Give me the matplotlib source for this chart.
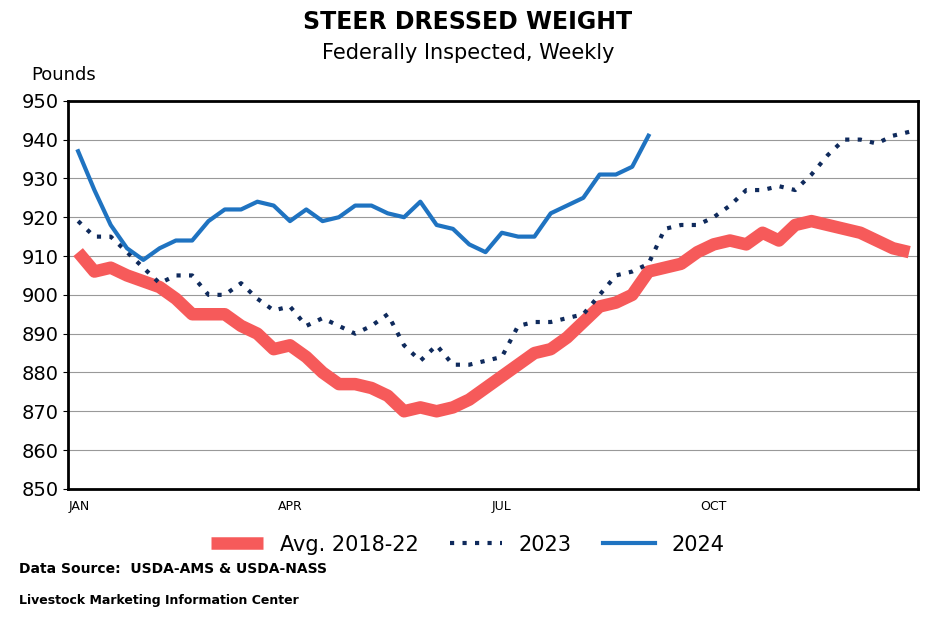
from matplotlib import pyplot as plt
import numpy as np

weeks = np.arange(1, 53)
avg_1822 = [911, 906, 907, 905, 903.5, 902, 899, 895, 895, 895, 892, 890, 886, 887, 884, 880,
            877, 877, 876, 874, 870, 871, 870, 871, 873, 876, 879, 882, 885, 886, 889, 893,
            897, 898, 900, 906, 907, 908, 911, 913, 914, 913, 916, 914, 918, 919, 918, 917,
            916, 914, 912, 911]
y2023 = [919, 915, 915, 911, 907, 903, 905, 905, 900, 900, 903, 899, 896, 897, 892, 894,
         892, 890, 892, 895, 887, 883, 887, 882, 882, 883, 884, 892, 893, 893, 894, 895,
         900, 905, 906, 908, 917, 918, 918, 920, 923, 927, 927, 928, 927, 931, 936, 940,
         940, 939, 941, 942]
y2024 = [937, 927, 918, 912, 909, 912, 914, 914, 919, 922, 922, 924, 923, 919, 922, 919,
         920, 923, 923, 921, 920, 924, 918, 917, 913, 911, 916, 915, 915, 921, 923, 925,
         931, 931, 933, 941]
month_pos = [1.1, 14, 27, 40]
month_labels = ['JAN', 'APR', 'JUL', 'OCT']

fig = plt.figure(figsize=(9.36, 6.26), dpi=100)
ax = fig.add_axes([0.073, 0.219, 0.908, 0.62])
ax.plot(weeks, avg_1822, color='#F65A5A', linewidth=9, label='Avg. 2018-22', solid_capstyle='butt')
ax.plot(weeks, y2023, color='#0F2A5C', linewidth=3, linestyle=(0, (1, 2)), label='2023')
ax.plot(weeks[:len(y2024)], y2024, color='#1F73C1', linewidth=3, label='2024')

ax.set_xlim(0.4, 52.55)
ax.set_ylim(850, 950)
ax.set_yticks(range(850, 951, 10))
ax.set_xticks(month_pos)
ax.set_xticklabels(month_labels, fontsize=9)
ax.tick_params(axis='x', length=0, pad=8)
ax.tick_params(axis='y', labelsize=14)
ax.yaxis.grid(True, color='#999999', linewidth=0.8)
for s in ax.spines.values():
	s.set_linewidth(2)

fig.text(0.5, 0.953, 'STEER DRESSED WEIGHT', ha='center', fontsize=17, fontweight='bold')
fig.text(0.5, 0.905, 'Federally Inspected, Weekly', ha='center', fontsize=15)
fig.text(0.033, 0.872, 'Pounds', fontsize=13)
fig.legend(loc='center', bbox_to_anchor=(0.5, 0.13), ncol=3, frameon=False, fontsize=15,
           handlelength=2.5, columnspacing=1.5)
fig.text(0.02, 0.085, 'Data Source:  USDA-AMS & USDA-NASS', fontsize=10, fontweight='bold')
fig.text(0.02, 0.035, 'Livestock Marketing Information Center', fontsize=9, fontweight='bold')

fig.savefig('out.png')
